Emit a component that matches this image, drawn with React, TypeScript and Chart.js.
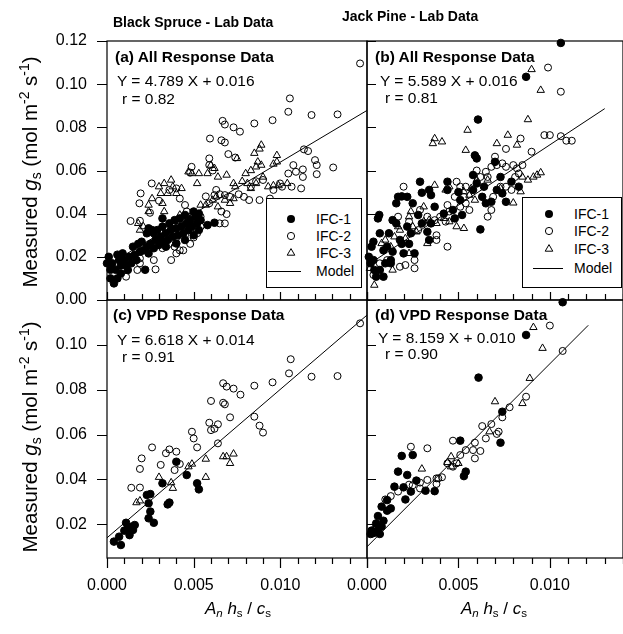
import React, { useEffect, useRef } from 'react';
import { Chart, registerables } from 'chart.js';

Chart.register(...registerables);

const W = 623;
const H = 634;
const CW = 690; // canvas wider than page so the last panel's right edge is not squeezed by label padding
const FONT = '"Liberation Sans", Arial, Helvetica, sans-serif';

// ---------- labels & ticks ----------
const seriesNames = ['IFC-1', 'IFC-2', 'IFC-3', 'Model'];
const columnTitles = ['Black Spruce - Lab Data', 'Jack Pine - Lab Data'];
const panelTitles = ['(a) All Response Data', '(b) All Response Data', '(c) VPD Response Data', '(d) VPD Response Data'];
const slopes = [4.789, 5.589, 6.618, 8.159];
const intercepts = [0.016, 0.016, 0.014, 0.010];
const rValues = [0.82, 0.81, 0.91, 0.90];
const modelXRange: [number, number][] = [[0, 0.015], [0, 0.013], [0, 0.015], [0, 0.0121]];

const xTickValues = [0, 0.001, 0.002, 0.003, 0.004, 0.005, 0.006, 0.007, 0.008, 0.009, 0.010, 0.011, 0.012, 0.013, 0.014, 0.015];
const xMajorValues = [0, 0.005, 0.010, 0.015];
const xLabelValues = [0, 0.005, 0.010];
const xTickLabels = ['0.000', '0.005', '0.010'];
const yTicksTop = [0, 0.02, 0.04, 0.06, 0.08, 0.10, 0.12];
const yTickLabelsTop = ['0.00', '0.02', '0.04', '0.06', '0.08', '0.10', '0.12'];
const yTicksBottom = [0.02, 0.04, 0.06, 0.08, 0.10];
const yTickLabelsBottom = ['0.02', '0.04', '0.06', '0.08', '0.10'];

// ---------- data ----------
type P = [number, number];

const aIFC1: P[] = [[0.0001,0.020],[0.0000,0.017],[0.0002,0.014],[0.0002,0.010],[0.0006,0.010],[0.0005,0.014],[0.0008,0.016],[0.0007,0.0185],[0.0010,0.0185],[0.0011,0.016],[0.0014,0.017],[0.0013,0.020],[0.0016,0.021],[0.0017,0.0185],[0.0019,0.0224],[0.0021,0.023],[0.0022,0.014],[0.0023,0.0247],[0.0024,0.0216],[0.0025,0.026],[0.0026,0.0324],[0.0024,0.0332],[0.0023,0.0309],[0.0027,0.024],[0.0028,0.0278],[0.0030,0.0255],[0.0031,0.0293],[0.0032,0.027],[0.0032,0.0378],[0.0034,0.0309],[0.0035,0.0278],[0.0037,0.0324],[0.0038,0.0293],[0.0040,0.0332],[0.0041,0.030],[0.0043,0.034],[0.0044,0.0309],[0.0046,0.0355],[0.0047,0.0324],[0.0048,0.037],[0.0049,0.034],[0.0051,0.0386],[0.0052,0.0355],[0.0053,0.040],[0.0054,0.037],[0.0058,0.0347],[0.0062,0.0358],[0.0006,0.021],[0.0009,0.0216],[0.0015,0.0247],[0.0018,0.026],[0.0020,0.027],[0.0027,0.0309],[0.0029,0.0324],[0.0032,0.034],[0.0036,0.0355],[0.0039,0.037],[0.0042,0.0378],[0.0045,0.0394],[0.0050,0.041],[0.0034,0.0247],[0.0040,0.0262],[0.0045,0.0278],[0.0050,0.030],[0.0053,0.0324],[0.0004,0.0077],[0.0008,0.0123],[0.0012,0.0139],[0.0003,0.017]];
const aIFC2: P[] = [[0.0146,0.1096],[0.01055,0.0934],[0.01046,0.0872],[0.0118,0.0857],[0.0133,0.086],[0.00955,0.0833],[0.0085,0.0818],[0.00667,0.083],[0.0068,0.0813],[0.0073,0.080],[0.00767,0.078],[0.00594,0.0748],[0.0066,0.074],[0.0068,0.073],[0.0070,0.0676],[0.0074,0.066],[0.0059,0.0656],[0.01136,0.0698],[0.0116,0.069],[0.0120,0.0648],[0.0121,0.0625],[0.0121,0.0583],[0.01305,0.0614],[0.01075,0.0625],[0.0113,0.0605],[0.0113,0.057],[0.0109,0.0594],[0.01046,0.0586],[0.00998,0.054],[0.0101,0.0525],[0.0096,0.051],[0.01065,0.0525],[0.0112,0.0517],[0.00488,0.0617],[0.0048,0.059],[0.0059,0.0625],[0.0061,0.060],[0.00258,0.054],[0.00194,0.0494],[0.00187,0.0448],[0.00248,0.0404],[0.00136,0.0366],[0.0019,0.0367],[0.0040,0.0517],[0.0042,0.047],[0.0036,0.051],[0.0030,0.046],[0.0045,0.044],[0.0046,0.041],[0.0063,0.051],[0.0065,0.049],[0.0062,0.0486],[0.0068,0.0486],[0.0071,0.0478],[0.0076,0.049],[0.0079,0.0478],[0.0082,0.0463],[0.0088,0.0463],[0.0094,0.047],[0.0059,0.0448],[0.0069,0.0398],[0.0065,0.0355],[0.0068,0.0355],[0.0054,0.0386],[0.0054,0.034],[0.0052,0.0309],[0.0048,0.026],[0.0044,0.023],[0.0040,0.0216],[0.0037,0.0185],[0.0027,0.0185],[0.0019,0.017],[0.00175,0.0139],[0.0028,0.0142],[0.0011,0.0108],[0.0019,0.0193],[0.0032,0.024],[0.0036,0.026],[0.0039,0.0247],[0.0048,0.0324],[0.0045,0.030],[0.0042,0.023],[0.0034,0.0324],[0.0040,0.029],[0.0050,0.029],[0.0057,0.048],[0.0083,0.0525],[0.0086,0.055],[0.0090,0.0556],[0.0066,0.041]];
const aIFC3: P[] = [[0.0089,0.0718],[0.0088,0.070],[0.0085,0.068],[0.0098,0.067],[0.0087,0.064],[0.0089,0.0625],[0.0086,0.0617],[0.0083,0.060],[0.0096,0.063],[0.0098,0.064],[0.0075,0.0656],[0.0060,0.0625],[0.0062,0.061],[0.0058,0.0586],[0.0064,0.057],[0.0069,0.0579],[0.0053,0.0586],[0.0052,0.054],[0.0047,0.0594],[0.0049,0.0586],[0.0037,0.0556],[0.0033,0.054],[0.0038,0.0525],[0.0043,0.0517],[0.0035,0.0494],[0.0040,0.0494],[0.0031,0.0494],[0.0030,0.0525],[0.0024,0.044],[0.0024,0.041],[0.0033,0.041],[0.0032,0.0448],[0.0042,0.0394],[0.0044,0.037],[0.0047,0.038],[0.0054,0.044],[0.0057,0.044],[0.0061,0.0463],[0.0063,0.0478],[0.0068,0.0463],[0.0073,0.054],[0.0074,0.0525],[0.0078,0.055],[0.0081,0.054],[0.0083,0.0517],[0.0086,0.054],[0.0090,0.057],[0.0093,0.0525],[0.0096,0.053],[0.0073,0.047],[0.0071,0.0448],[0.0064,0.0432],[0.0018,0.0355],[0.0019,0.0324],[0.0021,0.034],[0.0032,0.0316],[0.0037,0.034],[0.0042,0.0363],[0.0049,0.0386],[0.00075,0.020],[0.0026,0.047],[0.0080,0.0586],[0.0104,0.054],[0.0099,0.053]];

const bIFC1: P[] = [[0.0106,0.1191],[0.0087,0.1034],[0.00607,0.0836],[0.0059,0.067],[0.0060,0.0656],[0.0062,0.0327],[0.0006,0.0378],[0.00067,0.0394],[0.00035,0.027],[0.00025,0.0247],[0.0001,0.020],[0.00035,0.0185],[0.0004,0.0139],[0.0005,0.0108],[0.0007,0.0139],[0.0010,0.017],[0.0009,0.023],[0.0011,0.0247],[0.0013,0.0185],[0.0014,0.0224],[0.0018,0.0278],[0.0019,0.026],[0.0023,0.026],[0.0024,0.0309],[0.0022,0.034],[0.0016,0.0448],[0.0017,0.0478],[0.0019,0.048],[0.0022,0.0478],[0.0025,0.0448],[0.0029,0.0548],[0.0030,0.0497],[0.0034,0.051],[0.0035,0.0486],[0.0037,0.0432],[0.0028,0.0394],[0.0030,0.0355],[0.0035,0.0355],[0.0034,0.0278],[0.0033,0.0316],[0.0042,0.040],[0.0044,0.0548],[0.0044,0.051],[0.0050,0.050],[0.0051,0.0463],[0.0047,0.0417],[0.0052,0.0394],[0.0048,0.0378],[0.0058,0.0579],[0.0060,0.054],[0.0058,0.051],[0.0064,0.0525],[0.0063,0.0478],[0.0065,0.0448],[0.0068,0.0455],[0.0071,0.051],[0.0074,0.0494],[0.0076,0.0455],[0.0073,0.057],[0.0079,0.0548],[0.0083,0.0525],[0.0070,0.064],[0.0014,0.037],[0.0012,0.0309],[0.0016,0.0355],[0.0007,0.0309],[0.0009,0.0108],[0.0013,0.017],[0.0002,0.017],[0.0026,0.0216],[0.0020,0.0216]];
const bIFC2: P[] = [[0.0099,0.1077],[0.0106,0.0965],[0.0084,0.0748],[0.0097,0.0764],[0.0100,0.0764],[0.0106,0.0759],[0.0109,0.0738],[0.0112,0.0738],[0.0090,0.0687],[0.0076,0.070],[0.0020,0.0525],[0.0049,0.0548],[0.0044,0.0247],[0.0026,0.0185],[0.0026,0.0147],[0.0021,0.0162],[0.00035,0.0116],[0.0070,0.0664],[0.0071,0.0625],[0.0068,0.0617],[0.0074,0.0633],[0.0076,0.0617],[0.0080,0.0625],[0.0085,0.0625],[0.0083,0.0586],[0.0065,0.0594],[0.0066,0.057],[0.0062,0.057],[0.0060,0.060],[0.0054,0.0525],[0.0051,0.0525],[0.0048,0.0478],[0.0053,0.0478],[0.0054,0.0448],[0.0056,0.0417],[0.0051,0.0432],[0.0044,0.044],[0.0045,0.041],[0.0043,0.0363],[0.0040,0.0386],[0.0037,0.037],[0.0033,0.0386],[0.0028,0.0324],[0.0038,0.0278],[0.0023,0.0363],[0.0017,0.0386],[0.0068,0.0417],[0.0066,0.0386],[0.0069,0.0478],[0.0073,0.0525],[0.0076,0.0525],[0.0079,0.051],[0.0081,0.057],[0.0082,0.061],[0.0029,0.0417],[0.0018,0.0154],[0.0007,0.017],[0.0011,0.0185],[0.0038,0.030]];
const bIFC3: P[] = [[0.0090,0.1068],[0.0095,0.0972],[0.0088,0.0836],[0.0055,0.0787],[0.0037,0.0748],[0.0036,0.0725],[0.0041,0.0733],[0.0077,0.0764],[0.0082,0.0718],[0.0071,0.0725],[0.0054,0.0694],[0.0095,0.059],[0.0093,0.0579],[0.0091,0.057],[0.0088,0.0556],[0.0085,0.057],[0.0084,0.0502],[0.0080,0.045],[0.0073,0.0517],[0.0066,0.0556],[0.0060,0.0556],[0.0057,0.0517],[0.0056,0.0486],[0.0053,0.0502],[0.0059,0.0463],[0.0053,0.0332],[0.0049,0.034],[0.0045,0.0363],[0.0043,0.051],[0.0037,0.0532],[0.0031,0.0432],[0.0024,0.041],[0.0023,0.0386],[0.0025,0.034],[0.0031,0.0363],[0.0034,0.037],[0.0038,0.0355],[0.0042,0.0378],[0.0017,0.034],[0.0018,0.0324],[0.0015,0.0293],[0.0010,0.0278],[0.0008,0.0262],[0.0013,0.0247],[0.0027,0.0316],[0.0023,0.0216],[0.0021,0.0285],[0.00016,0.0147],[0.0004,0.0069],[0.0014,0.0139],[0.0002,0.0185],[0.0033,0.0262],[0.0045,0.0525]];

const cIFC1: P[] = [[0.0040,0.0479],[0.0032,0.0383],[0.0046,0.042],[0.0052,0.0383],[0.0053,0.0356],[0.0036,0.0297],[0.0035,0.0289],[0.0023,0.0331],[0.0025,0.0335],[0.0024,0.0294],[0.0025,0.0257],[0.0024,0.0227],[0.0027,0.0207],[0.0016,0.0197],[0.0011,0.0207],[0.0015,0.0175],[0.0013,0.0152],[0.0010,0.0172],[0.0007,0.0145],[0.0004,0.0123],[0.0008,0.0108],[0.0012,0.0182],[0.0014,0.0189]];
const cIFC2: P[] = [[0.0146,0.1096],[0.0106,0.0936],[0.0105,0.0873],[0.0118,0.0858],[0.0133,0.0861],[0.00955,0.0833],[0.0085,0.0818],[0.0067,0.0829],[0.0069,0.0814],[0.0073,0.0805],[0.0077,0.0778],[0.0060,0.075],[0.0067,0.0742],[0.0068,0.0735],[0.0071,0.0677],[0.0085,0.068],[0.0088,0.064],[0.0090,0.0609],[0.0059,0.0653],[0.0064,0.0646],[0.0060,0.062],[0.0062,0.0626],[0.0049,0.0613],[0.0050,0.0583],[0.0052,0.0543],[0.0064,0.0561],[0.0026,0.0543],[0.0034,0.0517],[0.0036,0.0534],[0.0040,0.0524],[0.0042,0.0469],[0.0039,0.0442],[0.0031,0.0465],[0.0020,0.0494],[0.0019,0.0447],[0.0014,0.0363],[0.0019,0.0364]];
const cIFC3: P[] = [[0.0017,0.0297],[0.0019,0.0305],[0.0030,0.041],[0.0037,0.0386],[0.0038,0.0361],[0.0047,0.0457],[0.0049,0.0469],[0.0057,0.0491],[0.0057,0.041],[0.0067,0.0502],[0.0069,0.0502],[0.0071,0.0472],[0.0073,0.0514]];

const dIFC1: P[] = [[0.0107,0.119],[0.0087,0.1044],[0.0061,0.0854],[0.0074,0.0702],[0.0073,0.0564],[0.0051,0.0573],[0.0054,0.0435],[0.0053,0.0415],[0.0025,0.0509],[0.0019,0.0505],[0.0017,0.0435],[0.0022,0.042],[0.0027,0.0395],[0.0020,0.0365],[0.0015,0.0368],[0.0024,0.0346],[0.0021,0.0311],[0.0032,0.035],[0.0037,0.0348],[0.0011,0.0308],[0.0013,0.0271],[0.0011,0.0261],[0.0008,0.0279],[0.0006,0.0237],[0.0009,0.0216],[0.0008,0.019],[0.0006,0.0175],[0.0003,0.016],[0.0002,0.0157],[0.0004,0.0163],[0.0007,0.0157],[0.00025,0.0172],[0.0005,0.0204]];
const dIFC2: P[] = [[0.0100,0.1086],[0.0107,0.0973],[0.0087,0.0769],[0.0078,0.0722],[0.0074,0.0677],[0.0068,0.0647],[0.0063,0.0638],[0.0065,0.0583],[0.0071,0.0603],[0.0072,0.0613],[0.0059,0.0564],[0.0058,0.0531],[0.0062,0.0527],[0.0059,0.0494],[0.0054,0.0531],[0.0051,0.0509],[0.0047,0.0573],[0.0049,0.0472],[0.0047,0.0457],[0.0044,0.0472],[0.0024,0.0546],[0.0033,0.0539],[0.0041,0.041],[0.0039,0.0405],[0.0038,0.0405],[0.0033,0.0398],[0.0029,0.0386],[0.0025,0.0374],[0.0023,0.0377],[0.0029,0.036],[0.0038,0.038],[0.0017,0.0346],[0.0013,0.0326],[0.0010,0.0311]];
const dIFC3: P[] = [[0.0091,0.1078],[0.0096,0.0985],[0.0089,0.0851],[0.0085,0.0739],[0.0070,0.0747],[0.0067,0.0613],[0.0046,0.0502],[0.0044,0.0476],[0.0046,0.0457],[0.0050,0.0472],[0.0030,0.0447],[0.0005,0.020]];

// ---------- layout / style (not data) ----------
type Panel = {
  series: P[][];
  idx: number;
  xMax: number;
  yMin: number;
  yMax: number;
  yTicks: number[];
  yLabels: string[];
  showX: boolean;
  showY: boolean;
  xDir: 'in' | 'out';
  yDir: 'in' | 'out';
  rect: { l: number; r: number; t: number; b: number };
};

const panels: Panel[] = [
  { series: [aIFC1, aIFC2, aIFC3], idx: 0, xMax: 0.015, yMin: 0, yMax: 0.12, yTicks: yTicksTop, yLabels: yTickLabelsTop, showX: false, showY: true, xDir: 'in', yDir: 'out', rect: { l: 107, r: 367, t: 41, b: 300 } },
  { series: [bIFC1, bIFC2, bIFC3], idx: 1, xMax: 0.014, yMin: 0, yMax: 0.12, yTicks: yTicksTop, yLabels: yTickLabelsTop, showX: false, showY: false, xDir: 'in', yDir: 'in', rect: { l: 367, r: 623, t: 41, b: 300 } },
  { series: [cIFC1, cIFC2, cIFC3], idx: 2, xMax: 0.015, yMin: 0.005, yMax: 0.12, yTicks: yTicksBottom, yLabels: yTickLabelsBottom, showX: true, showY: true, xDir: 'out', yDir: 'out', rect: { l: 107, r: 367, t: 300, b: 558 } },
  { series: [dIFC1, dIFC2, dIFC3], idx: 3, xMax: 0.014, yMin: 0.005, yMax: 0.12, yTicks: yTicksBottom, yLabels: yTickLabelsBottom, showX: true, showY: false, xDir: 'out', yDir: 'in', rect: { l: 367, r: 623, t: 300, b: 558 } },
];

const near = (a: number, b: number) => Math.abs(a - b) < 1e-9;

function makePlugin(p: Panel) {
  return {
    id: 'frameTicks',
    afterDraw(chart: any) {
      const { ctx, chartArea: a } = chart;
      ctx.save();
      ctx.strokeStyle = '#000';
      ctx.lineWidth = 1.2;
      ctx.strokeRect(a.left, a.top, a.right - a.left, a.bottom - a.top);
      ctx.beginPath();
      const ys = chart.scales.y;
      ys.ticks.forEach((t: any) => {
        const py = Math.round(ys.getPixelForValue(t.value)) + 0.5;
        if (p.yDir === 'out') { ctx.moveTo(a.left - 10, py); ctx.lineTo(a.left, py); }
        else { ctx.moveTo(a.left, py); ctx.lineTo(a.left + 9, py); }
      });
      const xs = chart.scales.x;
      xs.ticks.forEach((t: any) => {
        const px = Math.round(xs.getPixelForValue(t.value)) + 0.5;
        const major = xMajorValues.some((m) => near(m, t.value));
        if (p.xDir === 'out') { ctx.moveTo(px, a.bottom); ctx.lineTo(px, a.bottom + (major ? 10 : 6)); }
        else { ctx.moveTo(px, a.bottom); ctx.lineTo(px, a.bottom - (major ? 8 : 6)); }
      });
      ctx.stroke();
      ctx.restore();
    },
  };
}

function PanelChart({ p }: { p: Panel }) {
  const ref = useRef<HTMLCanvasElement>(null);
  useEffect(() => {
    const canvas = ref.current;
    if (!canvas) return;
    const toPts = (arr: P[]) => arr.map(([x, y]) => ({ x, y }));
    const m = slopes[p.idx];
    const b = intercepts[p.idx];
    const [x0, x1] = modelXRange[p.idx];
    const chart = new Chart(canvas, {
      type: 'scatter',
      data: {
        datasets: [
          { label: seriesNames[0], data: toPts(p.series[0]), pointStyle: 'circle', pointRadius: 3.8, backgroundColor: '#000', borderColor: '#000', borderWidth: 1, clip: 5 } as any,
          { label: seriesNames[1], data: toPts(p.series[1]), pointStyle: 'circle', pointRadius: 3.5, backgroundColor: 'rgba(0,0,0,0)', borderColor: '#000', borderWidth: 1, clip: 5 } as any,
          { label: seriesNames[2], data: toPts(p.series[2]), pointStyle: 'triangle', pointRadius: 4.3, backgroundColor: 'rgba(0,0,0,0)', borderColor: '#000', borderWidth: 1, clip: 5 } as any,
          { type: 'line', label: seriesNames[3], data: [{ x: x0, y: m * x0 + b }, { x: x1, y: m * x1 + b }], borderColor: '#000', borderWidth: 1, pointRadius: 0, fill: false, showLine: true } as any,
        ],
      },
      options: {
        responsive: false,
        animation: false,
        events: [],
        layout: { padding: { left: 0, right: CW - p.rect.r, top: p.rect.t, bottom: 0 } },
        plugins: { legend: { display: false }, tooltip: { enabled: false }, title: { display: false } },
        scales: {
          x: {
            type: 'linear',
            min: 0,
            max: p.xMax,
            afterBuildTicks: (s: any) => { s.ticks = xTickValues.filter((v) => v <= p.xMax + 1e-9).map((v) => ({ value: v })); },
            afterFit: (s: any) => { s.height = H - p.rect.b; },
            grid: { display: false, drawTicks: false },
            border: { display: false },
            ticks: {
              display: p.showX,
              autoSkip: false,
              maxRotation: 0,
              minRotation: 0,
              padding: 18,
              color: '#000',
              font: { family: FONT, size: 16 },
              callback: (v: any) => {
                const i = xLabelValues.findIndex((m2) => near(m2, Number(v)));
                return i >= 0 ? xTickLabels[i] : '';
              },
            },
          },
          y: {
            type: 'linear',
            min: p.yMin,
            max: p.yMax,
            afterBuildTicks: (s: any) => { s.ticks = p.yTicks.map((v) => ({ value: v })); },
            afterFit: (s: any) => { s.width = p.rect.l; },
            grid: { display: false, drawTicks: false },
            border: { display: false },
            ticks: {
              display: p.showY,
              autoSkip: false,
              padding: 20,
              color: '#000',
              font: { family: FONT, size: 16 },
              callback: (v: any) => {
                const i = p.yTicks.findIndex((t) => near(t, Number(v)));
                return i >= 0 ? p.yLabels[i] : '';
              },
            },
          },
        },
      } as any,
      plugins: [makePlugin(p)],
    });
    return () => chart.destroy();
  }, [p]);
  return <canvas ref={ref} width={CW} height={H} style={{ position: 'absolute', left: 0, top: 0 }} />;
}

// ---------- overlay texts ----------
const annotPos = [
  { t: [115, 57], e: [117, 81], r: [122, 99] },
  { t: [375, 57], e: [380, 81], r: [385, 98] },
  { t: [113, 315], e: [117, 340], r: [122, 357] },
  { t: [375, 315], e: [378, 338], r: [385, 354] },
];

const legendPos = [
  { left: 266, top: 198, w: 96, h: 90, mx: 24, tx: 49, rows: [20, 37, 54, 72], line: [1, 34] },
  { left: 522, top: 197, w: 100, h: 91, mx: 26, tx: 51, rows: [16, 33, 51, 70], line: [10, 40] },
];

function Txt({ x, y, children, style }: any) {
  return (
    <div style={{ position: 'absolute', left: x, top: y, transform: 'translateY(-50%)', whiteSpace: 'nowrap', lineHeight: 1, ...style }}>
      {children}
    </div>
  );
}

function Marker({ kind }: { kind: number }) {
  return (
    <svg width={12} height={12} style={{ display: 'block' }}>
      {kind === 0 && <circle cx={6} cy={6} r={4} fill="#000" />}
      {kind === 1 && <circle cx={6} cy={6} r={3.6} fill="none" stroke="#000" strokeWidth={1} />}
      {kind === 2 && <polygon points="6,1.6 9.8,8.2 2.2,8.2" fill="none" stroke="#000" strokeWidth={1} />}
    </svg>
  );
}

function Legend({ pos }: { pos: typeof legendPos[number] }) {
  return (
    <div style={{ position: 'absolute', left: pos.left, top: pos.top, width: pos.w, height: pos.h, border: '1px solid #000', background: '#fff', boxSizing: 'border-box' }}>
      {seriesNames.map((name, i) => (
        <React.Fragment key={name}>
          {i < 3 ? (
            <div style={{ position: 'absolute', left: pos.mx - 6, top: pos.rows[i] - 6 }}>
              <Marker kind={i} />
            </div>
          ) : (
            <div style={{ position: 'absolute', left: pos.line[0], top: pos.rows[i], width: pos.line[1] - pos.line[0], borderTop: '1px solid #000' }} />
          )}
          <div style={{ position: 'absolute', left: pos.tx, top: pos.rows[i], transform: 'translateY(-50%)', fontSize: 14, lineHeight: 1, whiteSpace: 'nowrap' }}>{name}</div>
        </React.Fragment>
      ))}
    </div>
  );
}

const subStyle: React.CSSProperties = { fontSize: '0.68em', verticalAlign: '-0.3em' };
const supStyle: React.CSSProperties = { fontSize: '0.68em', verticalAlign: '0.55em' };

function YLabel({ cx, cy }: { cx: number; cy: number }) {
  return (
    <div style={{ position: 'absolute', left: cx, top: cy, transform: 'translate(-50%,-50%) rotate(-90deg)', whiteSpace: 'nowrap', fontSize: 20.5, lineHeight: 1 }}>
      Measured <i>g</i><span style={subStyle}>s</span> (mol m<span style={supStyle}>-2</span> s<span style={supStyle}>-1</span>)
    </div>
  );
}

function XLabel({ cx, cy }: { cx: number; cy: number }) {
  return (
    <div style={{ position: 'absolute', left: cx, top: cy, transform: 'translate(-50%,-50%)', whiteSpace: 'nowrap', fontSize: 17, lineHeight: 1 }}>
      <i>A</i><span style={subStyle}><i>n</i></span> <i>h</i><span style={subStyle}>s</span> / <i>c</i><span style={subStyle}>s</span>
    </div>
  );
}

export default function App() {
  return (
    <div style={{ position: 'absolute', left: 0, top: 0, width: W, height: H, background: '#fff', overflow: 'hidden', fontFamily: FONT, color: '#000' }}>
      {panels.map((p) => <PanelChart key={p.idx} p={p} />)}
      <Txt x={113} y={22} style={{ fontSize: 14, fontWeight: 'bold' }}>{columnTitles[0]}</Txt>
      <Txt x={342} y={16} style={{ fontSize: 14, fontWeight: 'bold' }}>{columnTitles[1]}</Txt>
      {panels.map((p) => {
        const a = annotPos[p.idx];
        return (
          <React.Fragment key={'t' + p.idx}>
            <Txt x={a.t[0]} y={a.t[1]} style={{ fontSize: 15.5, fontWeight: 'bold' }}>{panelTitles[p.idx]}</Txt>
            <Txt x={a.e[0]} y={a.e[1]} style={{ fontSize: 15.5 }}>{`Y = ${slopes[p.idx].toFixed(3)} X + ${intercepts[p.idx].toFixed(3)}`}</Txt>
            <Txt x={a.r[0]} y={a.r[1]} style={{ fontSize: 15.5 }}>{`r = ${rValues[p.idx].toFixed(2)}`}</Txt>
          </React.Fragment>
        );
      })}
      <Legend pos={legendPos[0]} />
      <Legend pos={legendPos[1]} />
      <YLabel cx={31} cy={172} />
      <YLabel cx={31} cy={437} />
      <XLabel cx={238} cy={610} />
      <XLabel cx={494} cy={610} />
    </div>
  );
}
